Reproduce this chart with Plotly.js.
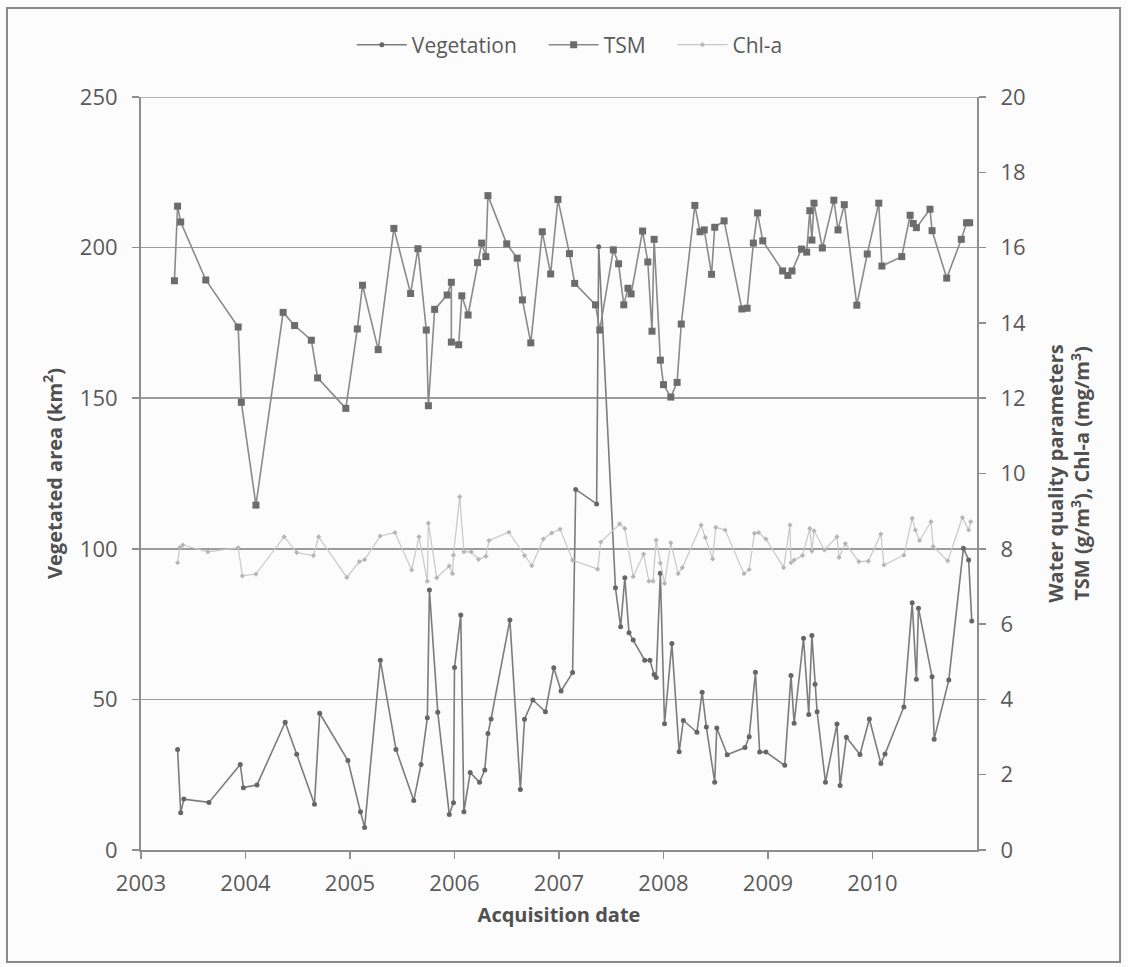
<!DOCTYPE html>
<html>
<head>
<meta charset="utf-8">
<script src="https://cdn.plot.ly/plotly-3.0.1.min.js"></script>
<style>
  html, body { margin: 0; padding: 0; background: #fcfcfc; }
  #chart { width: 1128px; height: 967px; }
</style>
</head>
<body>
<div id="chart"></div>
<script>
// Vegetated area (km2) by acquisition date (decimal year)
const vegDates = [2003.35, 2003.38, 2003.41, 2003.65, 2003.95, 2003.98, 2004.11, 2004.38, 2004.49, 2004.66,
  2004.71, 2004.98, 2005.10, 2005.14, 2005.29, 2005.44, 2005.61, 2005.68, 2005.74, 2005.76,
  2005.84, 2005.95, 2005.99, 2006.00, 2006.06, 2006.09, 2006.15, 2006.24, 2006.29, 2006.32,
  2006.35, 2006.53, 2006.63, 2006.67, 2006.75, 2006.87, 2006.95, 2007.02, 2007.13, 2007.16,
  2007.36, 2007.38, 2007.54, 2007.59, 2007.63, 2007.67, 2007.71, 2007.82, 2007.87, 2007.91,
  2007.93, 2007.97, 2008.01, 2008.08, 2008.15, 2008.19, 2008.32, 2008.37, 2008.41, 2008.49,
  2008.51, 2008.61, 2008.78, 2008.82, 2008.88, 2008.92, 2008.98, 2009.16, 2009.22, 2009.25,
  2009.34, 2009.39, 2009.42, 2009.45, 2009.47, 2009.55, 2009.66, 2009.69, 2009.75, 2009.88,
  2009.97, 2010.08, 2010.12, 2010.30, 2010.38, 2010.42, 2010.44, 2010.57, 2010.59, 2010.73,
  2010.87, 2010.92, 2010.95];
const vegArea = [33.4, 12.4, 16.9, 15.8, 28.4, 20.7, 21.6, 42.4, 31.8, 15.2,
  45.4, 29.7, 12.7, 7.5, 63.0, 33.4, 16.4, 28.4, 43.9, 86.3,
  45.7, 11.8, 15.7, 60.6, 78.0, 12.7, 25.7, 22.5, 26.6, 38.7,
  43.5, 76.4, 20.1, 43.4, 49.8, 45.9, 60.5, 52.8, 58.9, 119.7,
  114.9, 200.3, 87.1, 74.1, 90.4, 72.1, 69.7, 63.0, 63.0, 58.3,
  57.3, 91.9, 41.9, 68.6, 32.6, 43.0, 39.1, 52.4, 40.8, 22.5,
  40.5, 31.6, 34.0, 37.6, 59.0, 32.5, 32.5, 28.1, 57.9, 42.1,
  70.3, 45.0, 71.2, 55.0, 45.9, 22.5, 41.8, 21.4, 37.4, 31.7,
  43.5, 28.7, 31.9, 47.5, 82.1, 56.7, 80.3, 57.5, 36.8, 56.4,
  100.2, 96.3, 76.0];

// Total suspended matter (g/m3)
const tsmDates = [2003.32, 2003.35, 2003.38, 2003.62, 2003.93, 2003.96, 2004.10, 2004.36, 2004.47, 2004.63,
  2004.69, 2004.96, 2005.07, 2005.12, 2005.27, 2005.42, 2005.58, 2005.65, 2005.73, 2005.75,
  2005.81, 2005.93, 2005.97, 2005.97, 2006.04, 2006.07, 2006.13, 2006.22, 2006.26, 2006.30,
  2006.32, 2006.50, 2006.60, 2006.65, 2006.73, 2006.84, 2006.92, 2006.99, 2007.10, 2007.15,
  2007.35, 2007.39, 2007.52, 2007.57, 2007.62, 2007.66, 2007.69, 2007.80, 2007.85, 2007.89,
  2007.91, 2007.97, 2008.00, 2008.07, 2008.13, 2008.17, 2008.30, 2008.35, 2008.39, 2008.46,
  2008.49, 2008.58, 2008.75, 2008.80, 2008.86, 2008.90, 2008.95, 2009.14, 2009.19, 2009.23,
  2009.32, 2009.37, 2009.40, 2009.42, 2009.44, 2009.52, 2009.63, 2009.67, 2009.73, 2009.85,
  2009.95, 2010.06, 2010.09, 2010.28, 2010.36, 2010.39, 2010.42, 2010.55, 2010.57, 2010.71,
  2010.85, 2010.90, 2010.93];
const tsmValues = [15.12, 17.10, 16.68, 15.14, 13.89, 11.89, 9.16, 14.28, 13.93, 13.54,
  12.54, 11.73, 13.84, 15.00, 13.29, 16.51, 14.78, 15.97, 13.81, 11.80,
  14.36, 14.74, 15.08, 13.49, 13.42, 14.72, 14.21, 15.60, 16.12, 15.76,
  17.38, 16.10, 15.72, 14.61, 13.47, 16.42, 15.30, 17.28, 15.84, 15.05,
  14.48, 13.81, 15.94, 15.57, 14.48, 14.92, 14.77, 16.44, 15.62, 13.78,
  16.22, 13.01, 12.36, 12.03, 12.42, 13.97, 17.12, 16.42, 16.47, 15.29,
  16.54, 16.71, 14.37, 14.39, 16.12, 16.92, 16.18, 15.38, 15.26, 15.38,
  15.96, 15.88, 16.98, 16.20, 17.18, 15.99, 17.26, 16.47, 17.14, 14.47,
  15.83, 17.18, 15.51, 15.76, 16.86, 16.64, 16.53, 17.02, 16.45, 15.19,
  16.22, 16.66, 16.66];

// Chlorophyll-a (mg/m3)
const chlDates = [2003.35, 2003.37, 2003.40, 2003.64, 2003.93, 2003.97, 2004.10, 2004.37, 2004.49, 2004.65,
  2004.70, 2004.97, 2005.09, 2005.14, 2005.29, 2005.43, 2005.59, 2005.66, 2005.74, 2005.75,
  2005.83, 2005.95, 2005.98, 2005.99, 2006.05, 2006.09, 2006.16, 2006.23, 2006.30, 2006.33,
  2006.52, 2006.67, 2006.74, 2006.85, 2006.93, 2007.01, 2007.13, 2007.37, 2007.40, 2007.58,
  2007.63, 2007.71, 2007.81, 2007.86, 2007.90, 2007.93, 2007.97, 2008.01, 2008.07, 2008.14,
  2008.18, 2008.36, 2008.40, 2008.47, 2008.50, 2008.59, 2008.77, 2008.82, 2008.87, 2008.91,
  2008.98, 2009.15, 2009.21, 2009.22, 2009.25, 2009.33, 2009.40, 2009.42, 2009.44, 2009.54,
  2009.66, 2009.68, 2009.74, 2009.87, 2009.96, 2010.08, 2010.11, 2010.30, 2010.38, 2010.41,
  2010.45, 2010.56, 2010.58, 2010.72, 2010.86, 2010.92, 2010.94];
const chlValues = [7.63, 8.03, 8.10, 7.92, 8.03, 7.28, 7.33, 8.32, 7.90, 7.82,
  8.32, 7.24, 7.66, 7.71, 8.34, 8.43, 7.44, 8.32, 7.14, 8.68,
  7.23, 7.54, 7.34, 7.83, 9.38, 7.92, 7.92, 7.72, 7.80, 8.22,
  8.44, 7.82, 7.55, 8.26, 8.42, 8.52, 7.70, 7.46, 8.18, 8.66,
  8.54, 7.26, 7.86, 7.14, 7.14, 8.23, 7.62, 7.08, 8.16, 7.34,
  7.50, 8.63, 8.30, 7.73, 8.57, 8.50, 7.34, 7.45, 8.41, 8.43,
  8.26, 7.50, 8.63, 7.63, 7.70, 7.82, 8.54, 7.94, 8.48, 7.97,
  8.32, 7.77, 8.14, 7.66, 7.67, 8.39, 7.57, 7.83, 8.81, 8.50,
  8.22, 8.72, 8.06, 7.68, 8.83, 8.50, 8.72];

const yearTicks = [2003, 2004, 2005, 2006, 2007, 2008, 2009, 2010];

const FONT = '"Open Sans", "Liberation Sans", sans-serif';
const TICK_COLOR = '#5a5a5a';
const AXIS_COLOR = '#8e8e8e';
const TITLE_FONT = { family: FONT, size: 20, color: '#505050', weight: 'bold' };
// non-breaking spaces widen the gap between legend entries
const PAD = '\u00a0\u00a0\u00a0\u00a0';

const traces = [
  {
    name: 'Vegetation' + PAD,
    x: vegDates, y: vegArea, yaxis: 'y',
    mode: 'lines+markers',
    line: { color: '#7c7c7c', width: 1.6 },
    marker: { symbol: 'circle', size: 5, color: '#666666' }
  },
  {
    name: 'TSM' + PAD,
    x: tsmDates, y: tsmValues, yaxis: 'y2',
    mode: 'lines+markers',
    line: { color: '#8a8a8a', width: 1.6 },
    marker: { symbol: 'square', size: 7, color: '#6c6c6c' }
  },
  {
    name: 'Chl-a',
    x: chlDates, y: chlValues, yaxis: 'y2',
    mode: 'lines+markers',
    line: { color: '#c8c8c8', width: 1.2 },
    marker: { symbol: 'diamond', size: 4, color: '#b6b6b6' }
  }
];

const layout = {
  width: 1128, height: 967,
  margin: { l: 141, r: 151, t: 97, b: 117 },
  paper_bgcolor: '#fcfcfc',
  plot_bgcolor: '#fcfcfc',
  font: { family: FONT, color: TICK_COLOR },
  showlegend: true,
  legend: {
    orientation: 'h',
    x: 0.513, xanchor: 'center',
    y: 1.069, yanchor: 'middle',
    font: { family: FONT, size: 21, color: TICK_COLOR },
    bgcolor: 'rgba(0,0,0,0)',
    itemwidth: 50
  },
  xaxis: {
    range: [2003, 2011],
    tickvals: yearTicks,
    ticktext: yearTicks.map(String),
    showgrid: false, zeroline: false,
    showline: true, linecolor: AXIS_COLOR, linewidth: 2,
    ticks: 'outside', ticklen: 7, tickwidth: 1.5, tickcolor: AXIS_COLOR,
    ticklabelstandoff: 6,
    tickfont: { family: FONT, size: 22, color: TICK_COLOR },
    title: { text: 'Acquisition date', standoff: 12, font: TITLE_FONT }
  },
  yaxis: {
    range: [0, 250], dtick: 50,
    showgrid: true, gridcolor: '#9c9c9c', gridwidth: 1.6,
    zeroline: false,
    showline: true, linecolor: AXIS_COLOR, linewidth: 2,
    ticks: 'outside', ticklen: 7, tickwidth: 1.5, tickcolor: AXIS_COLOR,
    ticklabelstandoff: 10,
    tickfont: { family: FONT, size: 22, color: TICK_COLOR },
    title: { text: 'Vegetated area (km<sup>2</sup>)', standoff: 12, font: TITLE_FONT }
  },
  yaxis2: {
    range: [0, 20], dtick: 2,
    overlaying: 'y', side: 'right',
    showgrid: false, zeroline: false,
    showline: true, linecolor: AXIS_COLOR, linewidth: 2,
    ticks: 'outside', ticklen: 7, tickwidth: 1.5, tickcolor: AXIS_COLOR,
    ticklabelstandoff: 10,
    tickfont: { family: FONT, size: 22, color: TICK_COLOR },
    title: { text: 'Water quality parameters<br>TSM (g/m<sup>3</sup>), Chl-a (mg/m<sup>3</sup>)', standoff: 24, font: TITLE_FONT }
  },
  shapes: [
    // gridline along the top of the plot (250 km2)
    { type: 'line', xref: 'paper', yref: 'y', x0: 0, x1: 1, y0: 250, y1: 250,
      line: { color: '#9c9c9c', width: 1.6 } },
    // outer frame of the figure
    { type: 'rect', xref: 'paper', yref: 'paper',
      x0: -0.1603, x1: 1.1711, y0: -0.1487, y1: 1.1182,
      line: { color: '#8a8a8a', width: 2 }, fillcolor: 'rgba(0,0,0,0)' }
  ]
};

Plotly.newPlot('chart', traces, layout, { displayModeBar: false, staticPlot: true });
</script>
</body>
</html>
